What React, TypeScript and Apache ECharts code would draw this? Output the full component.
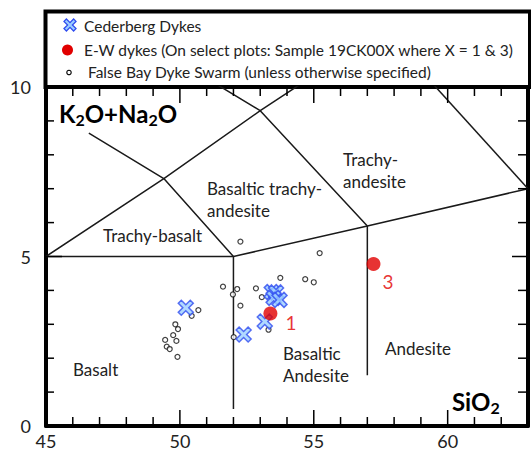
import React, { useEffect, useRef } from "react";
import * as echarts from "echarts";

const FONT = "Lato, 'Open Sans', sans-serif";
const INK = "#1a1a1a";

// Cederberg dykes: SiO2 (wt%) and total alkalis K2O+Na2O (wt%)
const cederbergSiO2 = [50.22, 52.38, 53.17, 53.43, 53.59, 53.5, 53.72];
const cederbergAlkali = [3.49, 2.7, 3.08, 3.95, 3.94, 3.78, 3.72];

// E-W dykes, samples 19CK001 and 19CK003
const ewLabels = ["1", "3"];
const ewSiO2 = [53.38, 57.23];
const ewAlkali = [3.32, 4.78];

// False Bay Dyke Swarm
const falseBaySiO2 = [
  50.69, 50.44, 49.83, 49.93, 49.75, 49.87, 49.45, 49.51, 49.62, 49.91,
  51.61, 51.98, 52.14, 52.84, 53.06, 52.26, 52.01, 53.31, 53.75, 54.68,
  55.0, 52.26, 55.22,
];
const falseBayAlkali = [
  3.42, 3.25, 3.0, 2.86, 2.68, 2.51, 2.54, 2.34, 2.27, 2.04,
  4.11, 3.88, 4.04, 4.06, 3.8, 3.55, 2.62, 2.84, 4.37, 4.33,
  4.24, 5.44, 5.1,
];

// TAS field boundaries (Le Bas et al., 1986), as polylines of [SiO2, alkalis]
const fieldBoundaries: number[][][] = [
  [[45, 5], [52, 5], [57, 5.9], [63, 7]],
  [[52, 0.5], [52, 5]],
  [[57, 1.5], [57, 5.9]],
  [[45, 5], [49.4, 7.3], [53, 9.3], [57.6, 11.7]],
  [[52, 5], [49.4, 7.3], [46.6, 8.64]],
  [[57, 5.9], [53, 9.3], [48.4, 11.5]],
  [[63, 7], [57.6, 11.7]],
];

const seriesNames = [
  "Cederberg Dykes",
  "E-W dykes (On select plots: Sample 19CK00X where X = 1 & 3)",
  "False Bay Dyke Swarm (unless otherwise specified)",
];

const X_RANGE = [45, 63];
const Y_RANGE = [0, 10];
// frame tick positions (every 1 wt%, longer every 5)
const xTicks = [46, 47, 48, 49, 50, 51, 52, 53, 54, 55, 56, 57, 58, 59, 60, 61, 62];
const yTicks = [1, 2, 3, 4, 5, 6, 7, 8, 9];

const GRID = { left: 46, right: 2.5, top: 87, bottom: 26 };
const WIDTH = 531;
const HEIGHT = 452;

const CROSS_PATH =
  "path://M2,0L5,3L8,0L10,2L7,5L10,8L8,10L5,7L2,10L0,8L3,5L0,2Z";
const CROSS_FILL = "#9ccfff";
const CROSS_EDGE = "#2f4cf0";
const RED = "#e10000";

function crossPoints(cx: number, cy: number, size: number): number[][] {
  const pts = [
    [2, 0], [5, 3], [8, 0], [10, 2], [7, 5], [10, 8],
    [8, 10], [5, 7], [2, 10], [0, 8], [3, 5], [0, 2],
  ];
  const s = size / 10;
  return pts.map(([px, py]) => [cx - size / 2 + px * s, cy - size / 2 + py * s]);
}

// inward frame ticks as short line segments in axis units
function frameTickSeries(): any[] {
  const pxPerX = (WIDTH - GRID.left - GRID.right) / (X_RANGE[1] - X_RANGE[0]);
  const pxPerY = (HEIGHT - GRID.top - GRID.bottom) / (Y_RANGE[1] - Y_RANGE[0]);
  const segments: number[][][] = [];
  xTicks.forEach((v) => {
    const len = (v % 5 === 0 ? 16 : 9) / pxPerY;
    segments.push([[v, Y_RANGE[0]], [v, Y_RANGE[0] + len]]);
    segments.push([[v, Y_RANGE[1]], [v, Y_RANGE[1] - len]]);
  });
  yTicks.forEach((v) => {
    const major = v % 5 === 0;
    const lenL = (major ? 16 : 8) / pxPerX;
    const lenR = (major ? 16 : 10) / pxPerX;
    segments.push([[X_RANGE[0], v], [X_RANGE[0] + lenL, v]]);
    segments.push([[X_RANGE[1], v], [X_RANGE[1] - lenR, v]]);
  });
  return segments.map((seg, i) => ({
    type: "line",
    name: "tick-" + i,
    data: seg,
    symbol: "none",
    silent: true,
    clip: false,
    lineStyle: { color: "#000", width: 1.5 },
    z: 6,
  }));
}

function buildOption(): echarts.EChartsOption {
  const labelStyle = { fontFamily: FONT, fontSize: 18, color: "#222" };

  const xAxis = (position: "top" | "bottom", withLabels: boolean) => ({
    type: "value" as const,
    min: X_RANGE[0],
    max: X_RANGE[1],
    interval: 5,
    position,
    axisLine: { show: true, onZero: false, lineStyle: { color: "#000", width: 4 } },
    axisTick: { show: false },
    axisLabel: withLabels
      ? {
          show: true,
          ...labelStyle,
          margin: 6,
          formatter: (v: number) => (v % 5 === 0 && v < X_RANGE[1] ? String(v) : ""),
        }
      : { show: false },
    splitLine: { show: false },
  });

  const yAxis = (position: "left" | "right", withLabels: boolean) => ({
    type: "value" as const,
    min: Y_RANGE[0],
    max: Y_RANGE[1],
    interval: 5,
    position,
    axisLine: { show: true, onZero: false, lineStyle: { color: "#000", width: 4 } },
    axisTick: { show: false },
    axisLabel: withLabels ? { show: true, ...labelStyle, margin: 15 } : { show: false },
    splitLine: { show: false },
  });

  const boundarySeries = fieldBoundaries.map((pts, i) => ({
    type: "line" as const,
    name: "field-" + i,
    data: pts,
    symbol: "none",
    silent: true,
    clip: true,
    lineStyle: { color: INK, width: 1.5 },
    z: 1,
  }));

  const regionText = (text: string, x: number, y: number) => ({
    type: "text" as const,
    x,
    y,
    silent: true,
    style: {
      text,
      fontFamily: FONT,
      fontSize: 17,
      fill: "#222",
      verticalAlign: "middle" as const,
      align: "left" as const,
      lineHeight: 22,
    },
  });

  const boldRich = {
    b: { fontFamily: FONT, fontSize: 24, fontWeight: "bold" as const, fill: "#000", color: "#000" },
    s: {
      fontFamily: FONT,
      fontSize: 16,
      fontWeight: "bold" as const,
      fill: "#000",
      color: "#000",
      padding: [13, 0, 0, 0],
    },
  };

  const legendText = (text: string, x: number, y: number) => ({
    type: "text" as const,
    x,
    y,
    silent: true,
    style: {
      text,
      fontFamily: FONT,
      fontSize: 15.5,
      fill: "#222",
      verticalAlign: "middle" as const,
    },
  });

  return {
    animation: false,
    backgroundColor: "#fff",
    grid: GRID,
    xAxis: [xAxis("bottom", true), xAxis("top", false)],
    yAxis: [yAxis("left", true), yAxis("right", false)],
    series: [
      ...frameTickSeries(),
      ...boundarySeries,
      {
        type: "scatter",
        name: seriesNames[2],
        data: falseBaySiO2.map((x, i) => [x, falseBayAlkali[i]]),
        symbol: "circle",
        symbolSize: 5,
        itemStyle: { color: "#fff", borderColor: "#111", borderWidth: 1.2 },
        z: 3,
      },
      {
        type: "scatter",
        name: seriesNames[0],
        data: cederbergSiO2.map((x, i) => [x, cederbergAlkali[i]]),
        symbol: CROSS_PATH,
        symbolSize: 15,
        itemStyle: { color: CROSS_FILL, borderColor: CROSS_EDGE, borderWidth: 1.5 },
        z: 4,
      },
      {
        type: "scatter",
        name: seriesNames[1],
        data: ewSiO2.map((x, i) => ({
          value: [x, ewAlkali[i]],
          name: ewLabels[i],
          label: { offset: i === 0 ? [3, 9] : [-3, 18] },
        })),
        symbol: "circle",
        symbolSize: 14,
        itemStyle: { color: RED },
        label: {
          show: true,
          position: "right",
          formatter: (p: any) => p.name,
          color: RED,
          fontFamily: FONT,
          fontSize: 19,
        },
        z: 5,
      },
    ],
    graphic: [
      // legend box sitting on the top frame
      {
        type: "rect",
        shape: { x: 45.5, y: 11.5, width: 484.5, height: 75.5 },
        style: { fill: "#fff", stroke: "#000", lineWidth: 4 },
        z: 0,
        silent: true,
      },
      {
        type: "polygon",
        shape: { points: crossPoints(70, 25, 12) },
        style: { fill: CROSS_FILL, stroke: CROSS_EDGE, lineWidth: 1.3 },
        silent: true,
      },
      legendText(seriesNames[0], 84, 26),
      {
        type: "circle",
        shape: { cx: 67.5, cy: 50, r: 5.5 },
        style: { fill: RED },
        silent: true,
      },
      legendText(seriesNames[1], 84, 50),
      {
        type: "circle",
        shape: { cx: 69, cy: 72.5, r: 2.2 },
        style: { fill: "#fff", stroke: "#111", lineWidth: 1.2 },
        silent: true,
      },
      legendText(seriesNames[2], 88, 72),
      // axis titles
      {
        type: "text",
        x: 59,
        y: 113,
        silent: true,
        style: {
          text: "{b|K}{s|2}{b|O+Na}{s|2}{b|O}",
          rich: boldRich,
          verticalAlign: "middle",
        },
      },
      {
        type: "text",
        x: 452,
        y: 401,
        silent: true,
        style: {
          text: "{b|SiO}{s|2}",
          rich: boldRich,
          verticalAlign: "middle",
        },
      },
      // rock field names
      regionText("Trachy-basalt", 103, 235),
      regionText("Basaltic trachy-\nandesite", 207, 199),
      regionText("Trachy-\nandesite", 343, 170.5),
      regionText("Basalt", 73, 369),
      regionText("Basaltic\nAndesite", 283, 364.5),
      regionText("Andesite", 385, 348),
    ],
  } as echarts.EChartsOption;
}

export default function App() {
  const ref = useRef<HTMLDivElement>(null);
  useEffect(() => {
    if (!ref.current) return;
    const chart = echarts.init(ref.current, undefined, { renderer: "svg" });
    chart.setOption(buildOption());
    return () => chart.dispose();
  }, []);
  return (
    <div
      ref={ref}
      style={{ position: "absolute", left: 0, top: 0, width: WIDTH, height: HEIGHT }}
    />
  );
}
